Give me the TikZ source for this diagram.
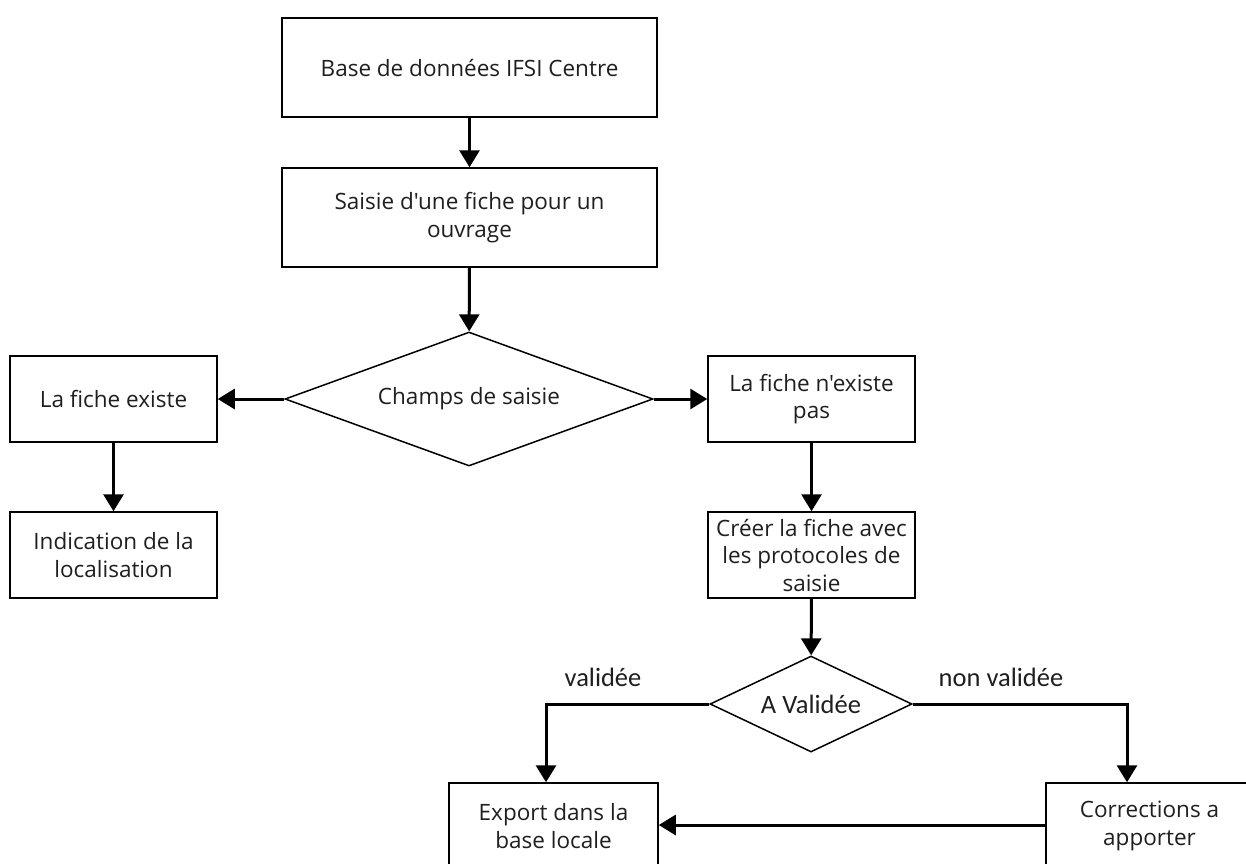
\documentclass[tikz,border=0pt]{standalone}
\usepackage{fontspec}
\setmainfont{Open Sans}[Ligatures=TeXOff]
\newfontfamily\calfont{Carlito}[Ligatures=TeXOff]
\usetikzlibrary{shapes.geometric,arrows.meta}
\tikzset{
  x=1pt,y=-1pt,
  box/.style={draw=black,line width=1.5pt,rectangle,inner sep=1pt,align=center,
    font=\fontsize{22.5}{27.5}\selectfont,text=black!88},
  dia/.style={draw=black,line width=1.5pt,diamond,inner sep=0pt,align=center,
    font=\fontsize{22.5}{27.5}\selectfont,text=black!88},
  arr/.style={line width=3pt,-{Triangle[length=17pt,width=20pt]}},
  lbl/.style={font=\calfont\fontsize{26.5}{30}\selectfont,text=black!88}
}
\begin{document}
\begin{tikzpicture}
\useasboundingbox (0,0) rectangle (1246,863);
\clip (0,0) rectangle (1246,863);
\fill[white] (0,0) rectangle (1246,863);
\node[box,minimum width=375pt,minimum height=99pt] (b1) at (469.5,67.5) {Base de données IFSI Centre};
\node[box,minimum width=375pt,minimum height=99pt] (b2) at (469.5,217.5) {Saisie d'une fiche pour un\\ouvrage};
\node[dia,shape aspect=2.75,minimum width=368pt,minimum height=134pt] (d1) at (469,399) {Champs de saisie};
\node[box,minimum width=207pt,minimum height=86pt] (e1) at (113.5,399) {La fiche existe};
\node[box,minimum width=207pt,minimum height=86pt] (e2) at (113.5,555) {Indication de la\\localisation};
\node[box,minimum width=207pt,minimum height=86pt] (n1) at (811.5,399) {La fiche n'existe\\pas};
\node[box,minimum width=207pt,minimum height=86pt] (n2) at (811.5,555) {Créer la fiche avec\\les protocoles de\\saisie};
\node[dia,shape aspect=2.1,minimum width=202pt,minimum height=96pt,font=\calfont\fontsize{26.5}{30}\selectfont] (d2) at (811,704) {A Validée};
\node[box,minimum width=209pt,minimum height=86pt] (ex) at (553.5,826) {Export dans la\\base locale};
\node[box,minimum width=207pt,minimum height=86pt] (co) at (1149.5,826) {Corrections a\\apporter};
\coordinate (cl) at (546,704);
\coordinate (cr) at (1127,704);
\node[lbl] (lv) at (603,677) {validée};
\node[lbl] (lnv) at (1001,677) {non validée};
\draw[arr] (b1) -- (b2);
\draw[arr] (b2) -- (d1);
\draw[arr] (d1.west) -- (e1.east);
\draw[arr] (d1.east) -- (n1.west);
\draw[arr] (e1) -- (e2);
\draw[arr] (n1) -- (n2);
\draw[arr] (n2) -- (d2);
\draw[arr] (d2.west) -- (cl) -- (cl |- ex.north);
\draw[arr] (d2.east) -- (cr) -- (cr |- co.north);
\draw[arr] (co.west |- 0,825) -- (ex.east |- 0,825);
\end{tikzpicture}
\end{document}
